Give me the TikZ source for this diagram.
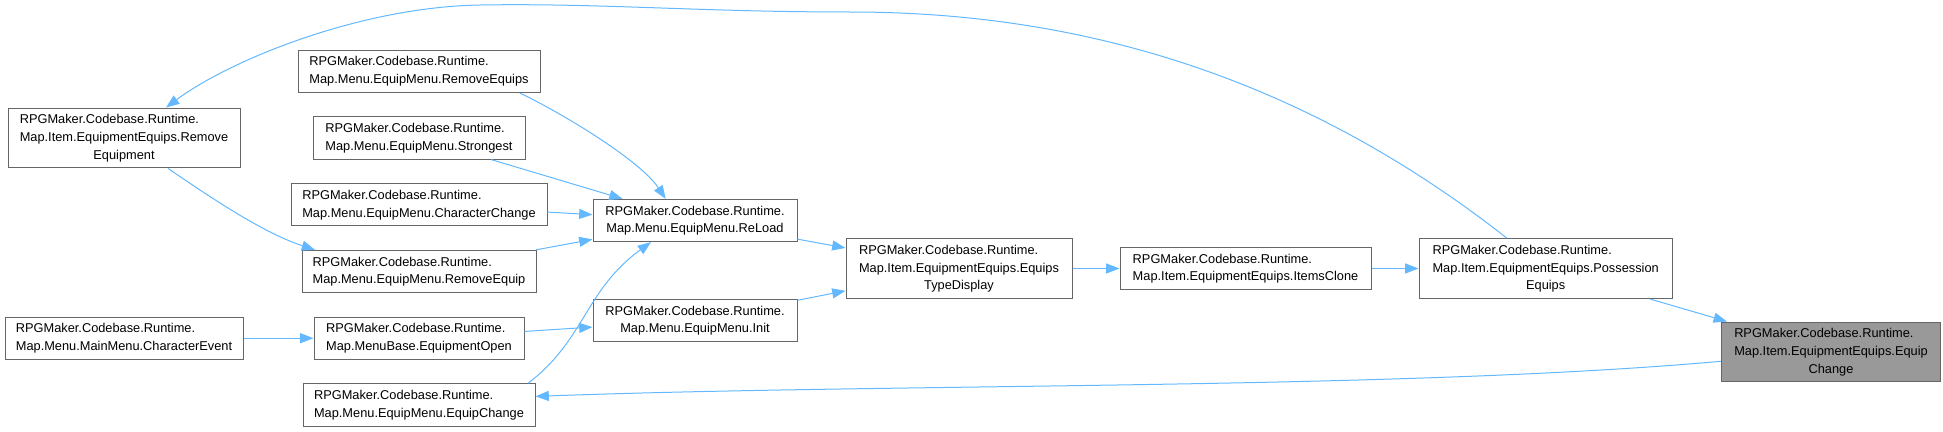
\documentclass[tikz,border=0pt]{standalone}
\usepackage{fontspec}
\setmainfont{Liberation Sans}
\usetikzlibrary{arrows.meta,positioning}
\definecolor{edgeBlue}{RGB}{99,184,255}
\definecolor{boxGray}{RGB}{102,102,102}
\definecolor{focusGray}{RGB}{153,153,153}
% qualified name: all lines left, last line centred
\newcommand{\qname}[2]{\begin{tabular}{@{}l@{}}#1\\\multicolumn{1}{@{}c@{}}{#2}\end{tabular}}

\begin{document}
\begin{tikzpicture}[x=0.75pt,y=-0.75pt,
        box/.style={draw=boxGray,fill=white,line width=0.75pt,inner xsep=2pt,inner ysep=2.6pt,
          font=\fontsize{9.6}{13.25}\selectfont},
        focus/.style={box,fill=focusGray},
        arrow/.style={draw=edgeBlue,line width=0.75pt,-{Triangle[length=10pt,width=7.5pt]}}
      ]
        \useasboundingbox (0,0) rectangle (1943,432);
        % callers of EquipMenu.ReLoad
        \node[box,minimum width=159pt] (strongest) at (419,138) {\qname{RPGMaker.Codebase.Runtime.}{Map.Menu.EquipMenu.Strongest}};
        \node[box,minimum width=181.5pt,above=17.6pt of strongest] (rmequips) {\qname{RPGMaker.Codebase.Runtime.}{Map.Menu.EquipMenu.RemoveEquips}};
        \node[box,minimum width=192pt,below=17.6pt of strongest] (chrchange) {\qname{RPGMaker.Codebase.Runtime.}{Map.Menu.EquipMenu.CharacterChange}};
        \node[box,minimum width=175.5pt,below=17.6pt of chrchange] (rmequip) {\qname{RPGMaker.Codebase.Runtime.}{Map.Menu.EquipMenu.RemoveEquip}};
        \node[box,minimum width=157.5pt,below=17.6pt of rmequip] (eqopen) {\qname{RPGMaker.Codebase.Runtime.}{Map.MenuBase.EquipmentOpen}};
        \node[box,minimum width=174pt,below=17.6pt of eqopen] (eqchgmenu) {\qname{RPGMaker.Codebase.Runtime.}{Map.Menu.EquipMenu.EquipChange}};
        \node[box,minimum width=174pt,on grid,left=221.25pt of strongest] (rmequipment) {\qname{RPGMaker.Codebase.Runtime.\\Map.Item.EquipmentEquips.Remove}{Equipment}};
        \node[box,minimum width=178.5pt,on grid,left=221.25pt of eqopen] (chrevent) {\qname{RPGMaker.Codebase.Runtime.}{Map.Menu.MainMenu.CharacterEvent}};
        % main row
        \node[box,minimum width=169.5pt] (typedisp) at (959,268.5) {\qname{RPGMaker.Codebase.Runtime.\\Map.Item.EquipmentEquips.Equips}{TypeDisplay}};
        \node[box,minimum width=153pt,left=36pt of typedisp,yshift=36pt] (reload) {\qname{RPGMaker.Codebase.Runtime.}{Map.Menu.EquipMenu.ReLoad}};
        \node[box,minimum width=153pt,left=36pt of typedisp,yshift=-39pt] (init) {\qname{RPGMaker.Codebase.Runtime.}{Map.Menu.EquipMenu.Init}};
        \node[box,minimum width=188.25pt,right=35.25pt of typedisp] (itemsclone) {\qname{RPGMaker.Codebase.Runtime.}{Map.Item.EquipmentEquips.ItemsClone}};
        \node[box,minimum width=190pt,right=35.25pt of itemsclone] (possession) {\qname{RPGMaker.Codebase.Runtime.\\Map.Item.EquipmentEquips.Possession}{Equips}};
        \node[focus,minimum width=164.5pt,below right=16.9pt and 36pt of possession] (main) {\qname{RPGMaker.Codebase.Runtime.\\Map.Item.EquipmentEquips.Equip}{Change}};
        % calls
        \draw[arrow] (possession) -- (main);
        \draw[arrow] (itemsclone) -- (possession);
        \draw[arrow] (typedisp) -- (itemsclone);
        \draw[arrow] (reload) -- (typedisp);
        \draw[arrow] (init) -- (typedisp);
        \draw[arrow] ([xshift=75.4pt]rmequips.south) .. controls (560,112) and (640,160) .. ([xshift=-22pt]reload.north);
        \draw[arrow] (strongest) -- (reload);
        \draw[arrow] (chrchange) -- (reload);
        \draw[arrow] (rmequip) -- (reload);
        \draw[arrow] ([xshift=81.75pt]eqchgmenu.north) .. controls (585,340) and (585,290) .. ([xshift=-33pt]reload.south);
        \draw[arrow] (eqopen) -- (init);
        \draw[arrow] (chrevent) -- (eqopen);
        \draw[arrow] ([xshift=33pt]rmequipment.south) .. controls (200,190) and (260,232) .. ([xshift=-78pt]rmequip.north);
        \draw[arrow] ([xshift=-29.25pt]possession.north) .. controls (1280,60) and (1050,12) .. (850,12)
          .. controls (700,12) and (600,3) .. (480,5) .. controls (360,7) and (230,60) .. ([xshift=31.5pt]rmequipment.north);
        \draw[arrow] ([yshift=-7pt]main.west) .. controls (1400,390) and (900,383) .. ([yshift=6.4pt]eqchgmenu.east);
      \end{tikzpicture}
\end{document}
